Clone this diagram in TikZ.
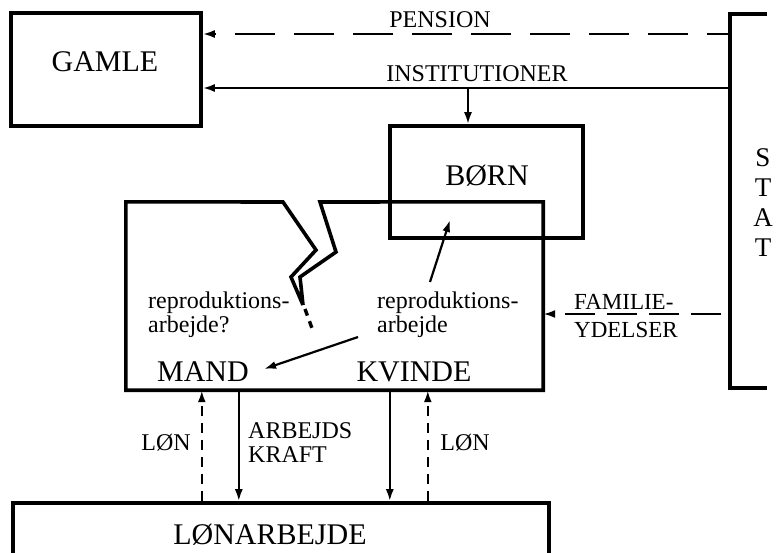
\documentclass[tikz,border=0pt]{standalone}
\usepackage{fontspec}
\setmainfont{Liberation Serif}
\usetikzlibrary{arrows.meta}
\begin{document}
\begin{tikzpicture}[x=1pt,y=-1pt,
  box/.style={draw, line width=3.6pt, inner sep=0pt, line join=miter},
  thick line/.style={line width=3.6pt, line join=miter},
  flow/.style={line width=2.2pt, -{Latex[length=12pt,width=8pt]}},
  dflow/.style={flow, dash pattern=on 40pt off 19pt, dash phase=17pt},
  fdflow/.style={flow, dash pattern=on 30pt off 12pt},
  sdflow/.style={flow, line width=2.6pt, dash pattern=on 10pt off 7pt},
  lbl/.style={font=\fontsize{24}{24}\selectfont, inner sep=0pt},
  big/.style={font=\fontsize{30}{32}\selectfont, inner sep=0pt}]
\useasboundingbox (0,0) rectangle (777,552);
\clip (0,0) rectangle (777,552);
\fill[white] (0,0) rectangle (777,552);

% boxes
\node[box, minimum width=190pt, minimum height=113pt] (gamle) at (106,69.5) {};
\node[big] (gamletxt) at (105,62) {GAMLE};
\node[box, minimum width=193pt, minimum height=112pt] (boern) at (486.5,182) {};
\node[big] (boerntxt) at (487,176) {BØRN};
\node[box, minimum width=536pt, minimum height=76pt] (lon) at (281,541) {};
\node[big] (lontxt) at (270,535) {LØNARBEJDE};

% family box (with the broken top)
\node[minimum width=417pt, minimum height=188pt, inner sep=0pt] (fam) at (334.5,296) {};
\draw[thick line] (303,305) -- (291,277) -- (316,250) -- (283,202) -- (fam.north west)
  -- (fam.south west) -- (fam.south east) -- (fam.north east) -- (320,202)
  -- (336,252) -- (300,277) -- (303,305);
\draw[line width=3.4pt, dash pattern=on 7pt off 6pt] (305,309) -- (313,331);

% state bracket
\draw[thick line] (767,14) -- (730,14) -- (730,388) -- (767,388);
\coordinate (statP) at (730,34);
\coordinate (statI) at (730,88);
\coordinate (inst) at (468,88);
\coordinate (statF) at (721,314);
\node[font=\fontsize{27}{30}\selectfont, align=center, inner sep=0pt] (stat) at (763,203) {S\\T\\A\\T};

% state flows
\draw[dflow] (statP) -- (statP -| gamle.east);
\node[lbl] (pension) at (440,20) {PENSION};
\draw[flow] (statI) -- (statI -| gamle.east);
\node[lbl] (insttxt) at (477,74) {INSTITUTIONER};
\draw[flow] (inst) -- (inst |- boern.north);
\draw[fdflow] (statF) -- (statF -| fam.east);
\node[lbl, anchor=west, align=left, font=\fontsize{23}{28}\selectfont] (famyd) at (574,316) {FAMILIE-\\YDELSER};

% inside family
\node[lbl, anchor=west, align=left] (repL) at (148,315) {reproduktions-\\arbejde?};
\node[lbl, anchor=west, align=left] (repR) at (377,315) {reproduktions-\\arbejde};
\node[big] (mand) at (203,372) {MAND};
\node[big] (kvinde) at (414,372) {KVINDE};
\coordinate (r1) at (430,282);
\coordinate (r2) at (450,220);
\draw[flow] (r1) -- (r2);
\coordinate (r3) at (358,337);
\draw[flow] (r3) -- ([xshift=15pt,yshift=3pt]mand.east);

% wage labour flows
\draw[sdflow] ([xshift=76pt]fam.south west |- lon.north) -- ([xshift=76pt]fam.south west);
\draw[flow] ([xshift=113pt]fam.south west) -- ([xshift=113pt]fam.south west |- lon.north);
\draw[flow] ([xshift=264pt]fam.south west) -- ([xshift=264pt]fam.south west |- lon.north);
\draw[sdflow] ([xshift=302pt]fam.south west |- lon.north) -- ([xshift=302pt]fam.south west);
\node[lbl] (lonL) at (166,443) {LØN};
\node[lbl, anchor=west, align=left] (arbk) at (248,443) {ARBEJDS\\KRAFT};
\node[lbl] (lonR) at (465,443) {LØN};
\end{tikzpicture}
\end{document}
